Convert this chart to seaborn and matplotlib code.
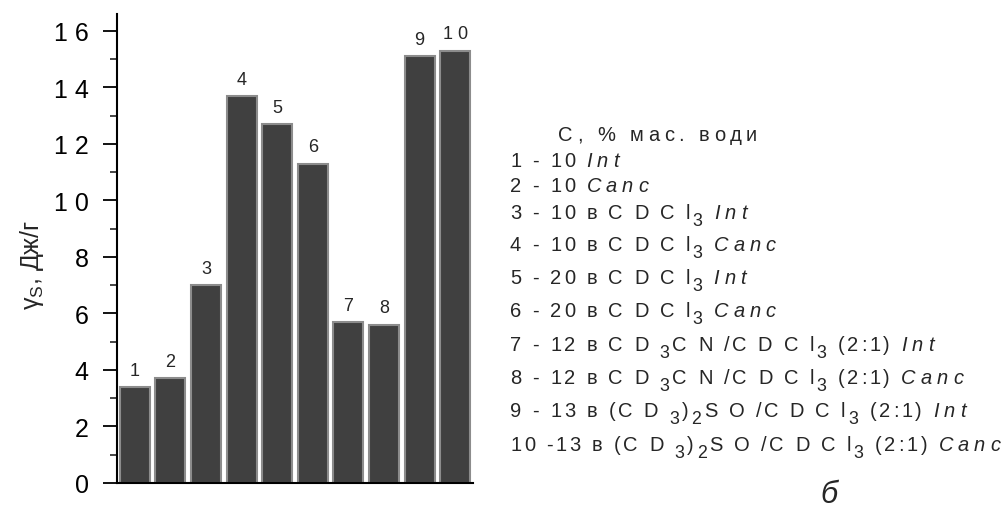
import matplotlib
matplotlib.use("Agg")
import matplotlib.pyplot as plt
import seaborn as sns
import pandas as pd
from matplotlib.ticker import MultipleLocator, FuncFormatter
from matplotlib.transforms import IdentityTransform

categories = ["1", "2", "3", "4", "5", "6", "7", "8", "9", "10"]
values = [3.4, 3.7, 7.0, 13.7, 12.7, 11.3, 5.7, 5.6, 15.1, 15.3]
bar_labels = ["1", "2", "3", "4", "5", "6", "7", "8", "9", "1 0"]
legend_title = "C, % мас. води"
# segments: (text, kind) kind: n = normal, i = italic, s = subscript
legend_lines = [
    [("1 - 10 ", "n"), ("Int", "i")],
    [("2 - 10 ", "n"), ("Canc", "i")],
    [("3 - 10 в C D C l", "n"), ("3", "s"), (" ", "n"), ("Int", "i")],
    [("4 - 10 в C D C l", "n"), ("3", "s"), (" ", "n"), ("Canc", "i")],
    [("5 - 20 в C D C l", "n"), ("3", "s"), (" ", "n"), ("Int", "i")],
    [("6 - 20 в C D C l", "n"), ("3", "s"), (" ", "n"), ("Canc", "i")],
    [("7 - 12 в C D ", "n"), ("3", "s"), ("C N /C D C l", "n"), ("3", "s"),
     (" (2:1) ", "n"), ("Int", "i")],
    [("8 - 12 в C D ", "n"), ("3", "s"), ("C N /C D C l", "n"), ("3", "s"),
     (" (2:1) ", "n"), ("Canc", "i")],
    [("9 - 13 в (C D ", "n"), ("3", "s"), (")", "n"), ("2", "s"),
     ("S O /C D C l", "n"), ("3", "s"), (" (2:1) ", "n"), ("Int", "i")],
    [("10 -13 в (C D ", "n"), ("3", "s"), (")", "n"), ("2", "s"),
     ("S O /C D C l", "n"), ("3", "s"), (" (2:1) ", "n"), ("Canc", "i")],
]
legend_baselines = [167, 192, 219, 251, 284, 317, 351, 384, 417, 451]
ylabel = r"$\mathrm{\gamma}_\mathrm{S}$, Дж/г"
panel = "б"

sns.set_style("white")
plt.rcParams["font.family"] = ["Liberation Sans", "DejaVu Sans"]
plt.rcParams["mathtext.fontset"] = "custom"
plt.rcParams["mathtext.rm"] = "Liberation Sans"
plt.rcParams["mathtext.it"] = "Liberation Sans:italic"

W, H = 1008, 510
fig = plt.figure(figsize=(W / 100, H / 100), dpi=100)
ax = fig.add_axes([117 / W, 1 - 484 / H, (473 - 117) / W, (484 - 15) / H])

df = pd.DataFrame({"cat": categories, "val": values})
sns.barplot(data=df, x="cat", y="val", color="#404040", saturation=1,
            edgecolor="#8c8c8c", linewidth=1.5, width=0.84, ax=ax)

ax.set_xlim(-0.5, 9.5)
ax.set_ylim(0, 16.6)
ax.yaxis.set_major_locator(MultipleLocator(2))
ax.yaxis.set_minor_locator(MultipleLocator(1))
ax.yaxis.set_major_formatter(FuncFormatter(lambda v, p: " ".join(str(int(v)))))
ax.tick_params(axis="y", which="major", direction="out", length=10, width=1.3,
               labelsize=18, pad=10.5, left=True, colors="black")
ax.tick_params(axis="y", which="minor", direction="out", length=5, width=1.2, left=True)
ax.tick_params(axis="x", bottom=False, labelbottom=False)
ax.set_xlabel("")
ax.set_ylabel(ylabel, fontsize=18)
ax.yaxis.set_label_coords((46 - 117) / 356, 0.467)
for s in ["top", "right"]:
    ax.spines[s].set_visible(False)
for s in ["left", "bottom"]:
    ax.spines[s].set_color("black")
    ax.spines[s].set_linewidth(1.5)

ax.bar_label(ax.containers[0], labels=bar_labels, padding=6, fontsize=13)

renderer = fig.canvas.get_renderer()
FS = 14.5


def draw_rich(x, yb, segs, track_n=2.8, track_i=5.0):
    starts = []
    for txt, kind in segs:
        size = FS * 0.88 if kind == "s" else FS
        dy = -7 if kind == "s" else 0
        style = "italic" if kind == "i" else "normal"
        tr = track_i if kind == "i" else track_n
        for ch in txt:
            if ch == " ":
                x += 0.278 * size * 100 / 72 + tr
                continue
            starts.append(x)
            t = fig.text(x, H - yb + dy, ch, fontsize=size, style=style,
                         va="baseline", ha="left", transform=IdentityTransform())
            bb = t.get_window_extent(renderer)
            x = bb.x1 + tr
    return starts


draw_rich(558, 141, [(legend_title, "n")], track_n=4.5)
last_starts = None
for yb, segs in zip(legend_baselines, legend_lines):
    last_starts = draw_rich(510, yb, segs)

# panel letter sits under the second "C" of CDCl in the last legend line
panel_x = last_starts[-12] if last_starts else 810
fig.text(panel_x, H - 503, panel, fontsize=22, style="italic", va="baseline",
         ha="left", transform=IdentityTransform())

fig.savefig("out.png", dpi=100)
